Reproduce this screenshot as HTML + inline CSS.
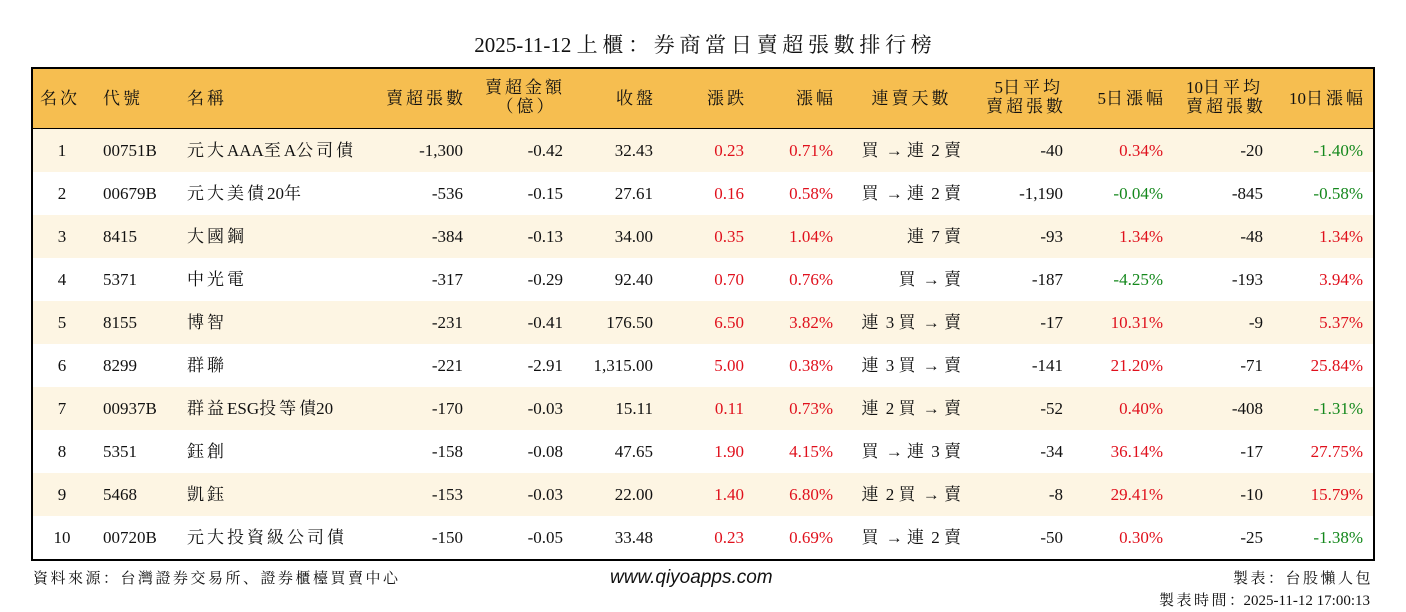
<!DOCTYPE html>
<html><head><meta charset="utf-8"><style>
body{margin:0;width:1406px;height:612px;background:#fff;position:relative;font-family:"Liberation Serif","Noto Serif CJK SC","Noto Sans CJK TC",serif;color:#111;overflow:hidden}
.a{position:absolute;white-space:nowrap}
.t{left:0;width:1406px;text-align:center;top:29px;font-size:21px}
.box{left:31px;top:67px;width:1340px;height:490px;border:2px solid #000}
.hd{left:33px;top:69px;width:1340px;height:59px;background:#f6be50;border-bottom:2px solid #000}
.row{left:33px;width:1340px;height:43px}
.odd{background:#fdf5e3}
.c{font-size:17px;line-height:20px}
.r{text-align:right}
.red{color:#e0101c}.grn{color:#14881c}
.h{font-size:17px;line-height:19px;text-align:center}
.k{letter-spacing:3px}
.k:last-child{margin-right:-3px}
.t .k{letter-spacing:4.7px}
.t .k:last-child{margin-right:-4.7px}
.f{font-size:15px}
.f .k{letter-spacing:2.5px}
</style></head><body>
<div class="a t">2025-11-12 上櫃：券商當日賣超張數排行榜</div>
<div class="a hd"></div>
<div id="rows"></div>
<div class="a box"></div>
<div class="a h" style="left:40px;top:89px">名次</div>
<div class="a h" style="left:103px;top:89px">代號</div>
<div class="a h" style="left:187px;top:89px">名稱</div>
<div class="a h" style="left:363px;width:100px;top:89px;text-align:right">賣超張數</div>
<div class="a h" style="left:475px;width:100px;top:78px">賣超金額<br>（億）</div>
<div class="a h" style="left:590px;width:63px;top:89px;text-align:right">收盤</div>
<div class="a h" style="left:690px;width:54px;top:89px;text-align:right">漲跌</div>
<div class="a h" style="left:780px;width:53px;top:89px;text-align:right">漲幅</div>
<div class="a h" style="left:855px;width:110px;top:89px">連賣天數</div>
<div class="a h" style="left:960px;width:103px;top:78px;text-align:right">5日平均<br>賣超張數</div>
<div class="a h" style="left:1060px;width:103px;top:89px;text-align:right">5日漲幅</div>
<div class="a h" style="left:1160px;width:103px;top:78px;text-align:right">10日平均<br>賣超張數</div>
<div class="a h" style="left:1260px;width:103px;top:89px;text-align:right">10日漲幅</div>
<div class="a f" style="left:33px;top:567px">資料來源：台灣證券交易所、證券櫃檯買賣中心</div>
<div class="a" style="left:610px;top:567px;font-size:19px;font-style:italic;font-family:'Liberation Sans',sans-serif">www.qiyoapps.com</div>
<div class="a f" style="right:36px;top:567px">製表：台股懶人包</div>
<div class="a f" style="right:36px;top:589px">製表時間：2025-11-12 17:00:13</div>
<script>
const d=[
["1","00751B","元大AAA至A公司債","-1,300","-0.42","32.43","0.23","0.71%","買 → 連 2 賣","-40","0.34%","-20","-1.40%"],
["2","00679B","元大美債20年","-536","-0.15","27.61","0.16","0.58%","買 → 連 2 賣","-1,190","-0.04%","-845","-0.58%"],
["3","8415","大國鋼","-384","-0.13","34.00","0.35","1.04%","連 7 賣","-93","1.34%","-48","1.34%"],
["4","5371","中光電","-317","-0.29","92.40","0.70","0.76%","買 → 賣","-187","-4.25%","-193","3.94%"],
["5","8155","博智","-231","-0.41","176.50","6.50","3.82%","連 3 買 → 賣","-17","10.31%","-9","5.37%"],
["6","8299","群聯","-221","-2.91","1,315.00","5.00","0.38%","連 3 買 → 賣","-141","21.20%","-71","25.84%"],
["7","00937B","群益ESG投等債20","-170","-0.03","15.11","0.11","0.73%","連 2 買 → 賣","-52","0.40%","-408","-1.31%"],
["8","5351","鈺創","-158","-0.08","47.65","1.90","4.15%","買 → 連 3 賣","-34","36.14%","-17","27.75%"],
["9","5468","凱鈺","-153","-0.03","22.00","1.40","6.80%","連 2 買 → 賣","-8","29.41%","-10","15.79%"],
["10","00720B","元大投資級公司債","-150","-0.05","33.48","0.23","0.69%","買 → 連 2 賣","-50","0.30%","-25","-1.38%"]];
const R=[null,null,null,463,563,653,744,833,961,1063,1163,1263,1363];
let h="";
d.forEach((r,i)=>{const top=129+i*43;
h+=`<div class="a row${i%2==0?' odd':''}" style="top:${top}px"></div>`;
const ty=top+12;
h+=`<div class="a c" style="left:42px;width:40px;text-align:center;top:${ty}px">${r[0]}</div>`;
h+=`<div class="a c" style="left:103px;top:${ty}px">${r[1]}</div>`;
h+=`<div class="a c" style="left:187px;top:${ty}px">${r[2]}</div>`;
for(let k=3;k<13;k++){let cl="";
if(k==6||k==7)cl="red";
if(k==10||k==12)cl=r[k][0]=="-"?"grn":"red";
h+=`<div class="a c r ${cl}" style="right:${1406-R[k]}px;top:${ty}px">${r[k]}</div>`;}
});
document.getElementById("rows").outerHTML=h;
document.querySelectorAll(".a").forEach(e=>{
 e.innerHTML=e.innerHTML.replace(/([\u3000-\u9fff\uff00-\uffef]+)/g,'<span class="k">$1</span>');
});
</script>
</body></html>
